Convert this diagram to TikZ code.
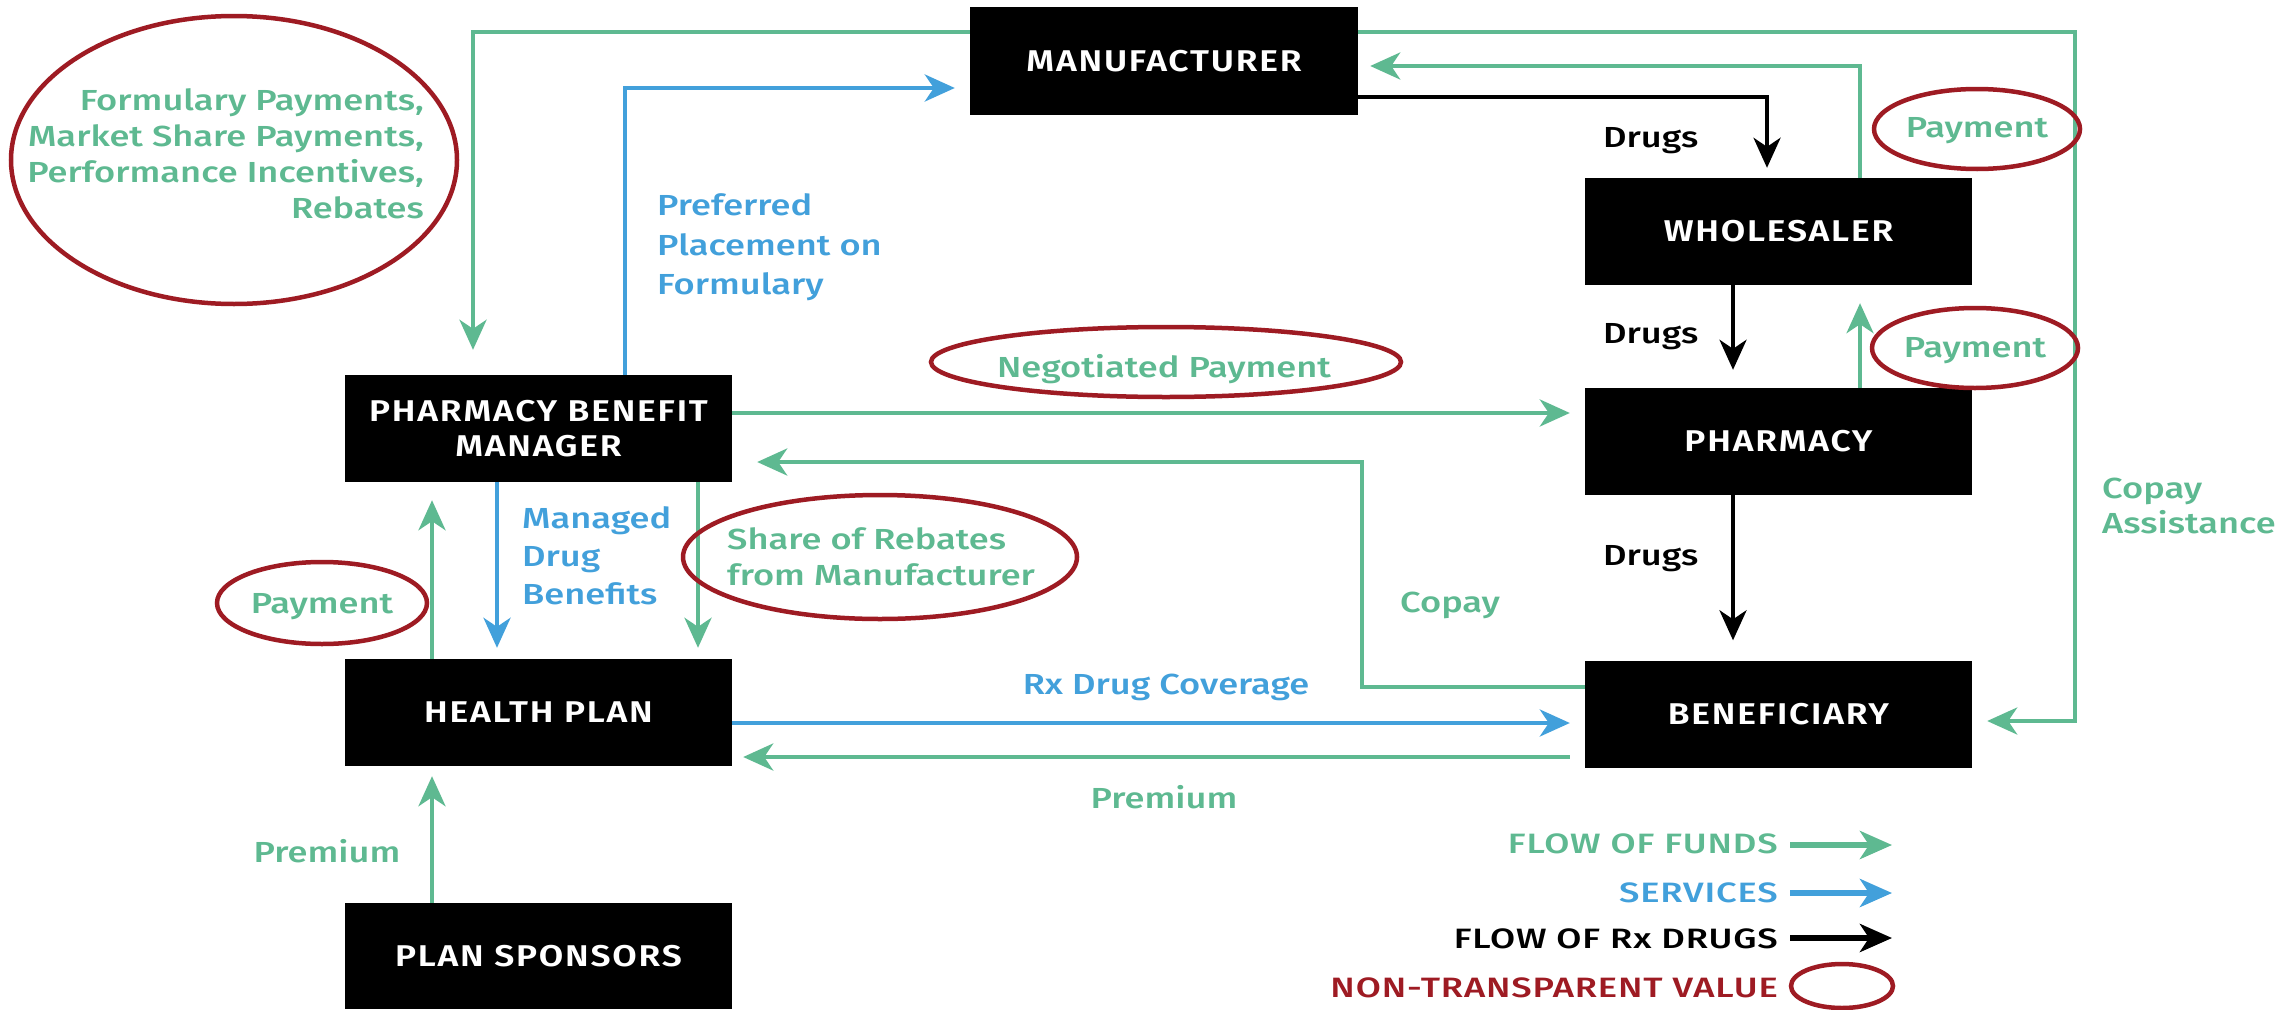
\documentclass[tikz,border=0pt]{standalone}
\usepackage{fontspec}
\setmainfont{Fira Sans}[UprightFont={* Medium},BoldFont={* Bold},FakeStretch=1.25]
\newfontfamily\boxfont{Fira Sans}[UprightFont={* SemiBold},FakeStretch=1.18,LetterSpace=6]
\newfontfamily\legfont{Fira Sans}[UprightFont={* Medium},FakeStretch=1.3,LetterSpace=3]
\usetikzlibrary{arrows.meta}
\definecolor{fundc}{RGB}{94,185,145}
\definecolor{servc}{RGB}{66,160,219}
\definecolor{ntc}{RGB}{158,27,35}
\begin{document}
\begin{tikzpicture}[x=1pt,y=-1pt,
  box/.style={fill=black, minimum width=387pt, minimum height=107pt, inner sep=0pt,
    text=white, font=\boxfont\fontsize{30}{35}\selectfont, align=center},
  tip/.style={-{Stealth[length=30pt,width=27pt,inset=9pt]}},
  fund/.style={draw=fundc, line width=4pt, tip},
  serv/.style={draw=servc, line width=4pt, tip},
  drug/.style={draw=black, line width=4pt, tip},
  lbl/.style={inner sep=0pt, font=\fontsize{29}{34}\selectfont},
  fl/.style={lbl, text=fundc},
  sl/.style={lbl, text=servc},
  dl/.style={lbl, text=black},
  nt/.style={draw=ntc, line width=4.5pt},
  leg/.style={line width=6pt, -{Stealth[length=32pt,width=28pt,inset=9pt]}},
  legl/.style={inner sep=0pt, anchor=base east, font=\legfont\fontsize{28}{34}\selectfont}
]
\useasboundingbox (0,0) rectangle (2280,1009);
\fill[white] (0,0) rectangle (2280,1009);

% boxes
\node[box, minimum width=388pt, minimum height=108pt] (man) at (1164,61) {MANUFACTURER};
\node[box] (whole) at (1778.5,231.5) {WHOLESALER};
\node[box] (pharm) at (1778.5,441.5) {PHARMACY};
\node[box] (benef) at (1778.5,714) {BENEFICIARY};
\node[box] (pbm) at (538.5,428.5) {PHARMACY BENEFIT\\MANAGER};
\node[box] (hp) at (538.5,712.5) {HEALTH PLAN};
\node[box, minimum height=106pt] (ps) at (538.5,956) {PLAN SPONSORS};

% connectors
\draw[fund, shorten >=25pt] (man.west |- 0,32) -| (pbm.north -| 473,0);
\draw[fund, shorten >=15pt] (man.east |- 0,32) -| (2075,721) -- (benef.east |- 0,721);
\draw[fund, shorten >=12pt] (whole.north -| 1860,0) |- (man.east |- 0,66);
\draw[drug, shorten >=10pt] (man.east |- 0,97) -| (whole.north -| 1767,0);
\draw[serv, shorten >=15pt] (pbm.north -| 625,0) |- (man.west |- 0,88);
\draw[drug, shorten >=18pt] (whole.south -| 1733,0) -- (pharm.north -| 1733,0);
\draw[fund, shorten >=18pt] (pharm.north -| 1860,0) -- (whole.south -| 1860,0);
\draw[fund, shorten >=15pt] (pbm.east |- 0,413) -- (pharm.west |- 0,413);
\draw[fund, shorten >=25pt] (benef.west |- 0,687) -| (1362,462) -- (pbm.east |- 0,462);
\draw[drug, shorten >=20pt] (pharm.south -| 1733,0) -- (benef.north -| 1733,0);
\draw[serv, shorten >=11pt] (pbm.south -| 497,0) -- (hp.north -| 497,0);
\draw[fund, shorten >=11pt] (pbm.south -| 698,0) -- (hp.north -| 698,0);
\draw[fund, shorten >=18pt] (hp.north -| 432,0) -- (pbm.south -| 432,0);
\draw[serv, shorten >=15pt] (hp.east |- 0,723) -- (benef.west |- 0,723);
\draw[fund, shorten <=15pt, shorten >=11pt] (benef.west |- 0,757) -- (hp.east |- 0,757);
\draw[fund, shorten >=10pt] (ps.north -| 432,0) -- (hp.south -| 432,0);

% non-transparent ellipses
\draw[nt] (234,160) ellipse (223 and 144);
\draw[nt] (1977,129) ellipse (103 and 40);
\draw[nt] (1975,348) ellipse (103 and 40);
\draw[nt] (1166,362) ellipse (235 and 35);
\draw[nt] (880,557) ellipse (197 and 62);
\draw[nt] (322,603) ellipse (105 and 41);

% labels
\node[fl, anchor=base east] (f1) at (424,110) {Formulary Payments,};
\node[fl, anchor=base east] (f2) at (424,146) {Market Share Payments,};
\node[fl, anchor=base east] (f3) at (424,182) {Performance Incentives,};
\node[fl, anchor=base east] (f4) at (424,218) {Rebates};
\node[sl, anchor=base west] (p1) at (657,215) {Preferred};
\node[sl, anchor=base west] (p2) at (657,255) {Placement on};
\node[sl, anchor=base west] (p3) at (657,294) {Formulary};
\node[dl, anchor=base west] (d1) at (1603,147) {Drugs};
\node[dl, anchor=base west] (d2) at (1603,343) {Drugs};
\node[dl, anchor=base west] (d3) at (1603,565) {Drugs};
\node[fl, anchor=base] (pay1) at (1977,137) {Payment};
\node[fl, anchor=base] (pay2) at (1975,357) {Payment};
\node[fl, anchor=base] (neg) at (1164,377) {Negotiated Payment};
\node[fl, anchor=base west] (ca1) at (2102,498) {Copay};
\node[fl, anchor=base west] (ca2) at (2102,533) {Assistance};
\node[sl, anchor=base west] (m1) at (522,528) {Managed};
\node[sl, anchor=base west] (m2) at (522,566) {Drug};
\node[sl, anchor=base west] (m3) at (522,604) {Benefits};
\node[fl, anchor=base west] (s1) at (727,549) {Share of Rebates};
\node[fl, anchor=base west] (s2) at (727,585) {from Manufacturer};
\node[fl, anchor=base] (pay3) at (322,613) {Payment};
\node[fl, anchor=base west] (cop) at (1400,612) {Copay};
\node[sl, anchor=base] (rx) at (1166,694) {Rx Drug Coverage};
\node[fl, anchor=base] (prem1) at (1164,808) {Premium};
\node[fl, anchor=base] (prem2) at (327,862) {Premium};

% legend
\node[legl, text=fundc] (lg1) at (1778,853) {FLOW OF FUNDS};
\node[legl, text=servc] (lg2) at (1778,902) {SERVICES};
\node[legl, text=black] (lg3) at (1778,948) {FLOW OF Rx DRUGS};
\node[legl, text=ntc] (lg4) at (1778,997) {NON-TRANSPARENT VALUE};
\coordinate (a1s) at (1790,845); \coordinate (a1e) at (1892,845);
\coordinate (a2s) at (1790,893); \coordinate (a2e) at (1892,893);
\coordinate (a3s) at (1790,938); \coordinate (a3e) at (1892,938);
\draw[leg, draw=fundc, fill=fundc] (a1s) -- (a1e);
\draw[leg, draw=servc, fill=servc] (a2s) -- (a2e);
\draw[leg, draw=black] (a3s) -- (a3e);
\draw[nt] (1842,986) ellipse (51 and 22);
\end{tikzpicture}
\end{document}
